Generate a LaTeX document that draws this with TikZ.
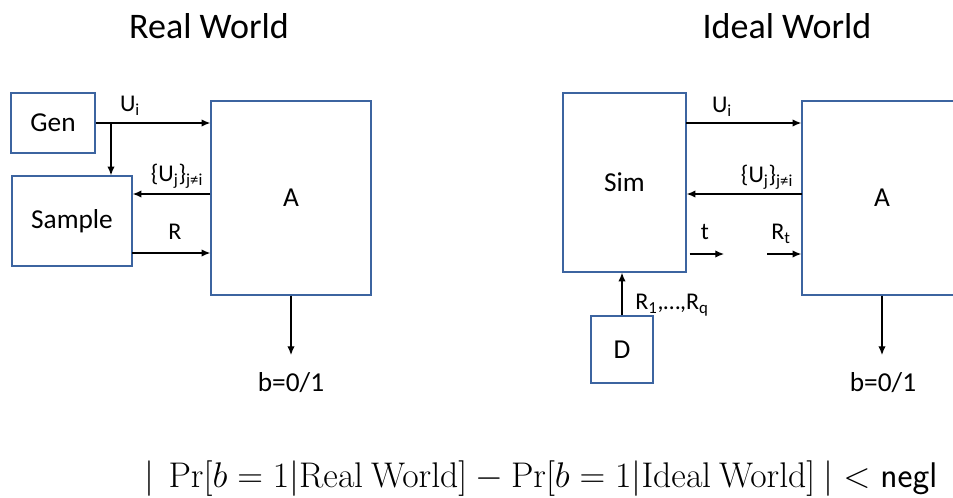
\documentclass[tikz,border=0pt]{standalone}
\usepackage[no-math]{fontspec}
\setmainfont{Carlito}
\usepackage{amsmath,amssymb}
\usetikzlibrary{arrows.meta,calc}
\definecolor{boxblue}{RGB}{60,100,160}

\begin{document}
\begin{tikzpicture}[x=0.75pt,y=-0.75pt,
  box/.style={draw=boxblue,line width=1.1pt,inner sep=0pt,font=\fontsize{20.5}{24}\selectfont},
  arr/.style={-{Latex[length=6.5pt,width=5.5pt]},line width=0.9pt},
  lbl/.style={inner sep=0pt,font=\fontsize{18}{21}\selectfont},
  big/.style={inner sep=0pt,font=\fontsize{20.5}{24}\selectfont}]
\clip (0,0) rectangle (953,497);
% titles
\node[inner sep=0pt,font=\fontsize{27}{32}\selectfont] (realT) at (209,26) {Real World};
\node[inner sep=0pt,font=\fontsize{27}{32}\selectfont] (idealT) at (787,26) {Ideal World};
% real world
\node[box,minimum width=63pt,minimum height=45pt] (gen) at (53,123) {Gen};
\node[box,minimum width=90pt,minimum height=67.5pt] (sample) at (72,221) {Sample};
\node[box,minimum width=120pt,minimum height=145.5pt] (realA) at (291,198) {A};
\coordinate (split) at (111,123);
\coordinate (realUj) at (371,194);
\coordinate (realR) at (132,253);
\coordinate (realOut) at (291,355);
\draw[arr] (gen.east) -- (gen.east -| realA.west);
\draw[arr] (split) -- (split |- sample.north);
\draw[arr] (realUj -| realA.west) -- (realUj -| sample.east);
\draw[arr] (realR) -- (realR -| realA.west);
\draw[arr] (realA.south) -- (realOut);
\node[lbl] at (130,106) {U\textsubscript{i}};
\node[lbl] at (177,176) {\{U\textsubscript{j}\}\textsubscript{j≠i}};
\node[lbl] at (175,232) {R};
\node[big] (bReal) at (291,383) {b=0/1};
% ideal world
\node[box,minimum width=92.25pt,minimum height=134.25pt] (sim) at (624.5,182.5) {Sim};
\node[box,minimum width=120pt,minimum height=145.5pt] (idealA) at (882,198) {A};
\node[box,minimum width=46.5pt,minimum height=50.25pt] (dist) at (622,349.5) {D};
\coordinate (idealU) at (686,123);
\coordinate (idealUj) at (802,194);
\coordinate (tEnd) at (724,254);
\coordinate (rtStart) at (767,254);
\coordinate (idealOut) at (882,355);
\draw[arr] (idealU) -- (idealU -| idealA.west);
\draw[arr] (idealUj) -- (idealUj -| sim.east);
\draw[arr] (tEnd -| sim.east) ++(3,0) -- (tEnd);
\draw[arr] (rtStart) -- (rtStart -| idealA.west);
\draw[arr] (dist.north) -- (dist.north |- sim.south);
\draw[arr] (idealA.south) -- (idealOut);
\node[lbl] at (722,107) {U\textsubscript{i}};
\node[lbl] at (767,177) {\{U\textsubscript{j}\}\textsubscript{j≠i}};
\node[lbl] at (705,232) {t};
\node[lbl] at (781,234) {R\textsubscript{t}};
\node[lbl] at (672,305) {R\textsubscript{1},…,R\textsubscript{q}};
\node[big] (bIdeal) at (883,383) {b=0/1};
% bound
\node[inner sep=0pt,font=\fontsize{24.88}{30}\selectfont] (bound) at (541,479)
  {\scalebox{1.075}{$|\ \Pr[b=1|\mathrm{Real\ World}]-\Pr[b=1|\mathrm{Ideal\ World}]\ |<\mathsf{negl}$}};
\end{tikzpicture}
\end{document}
